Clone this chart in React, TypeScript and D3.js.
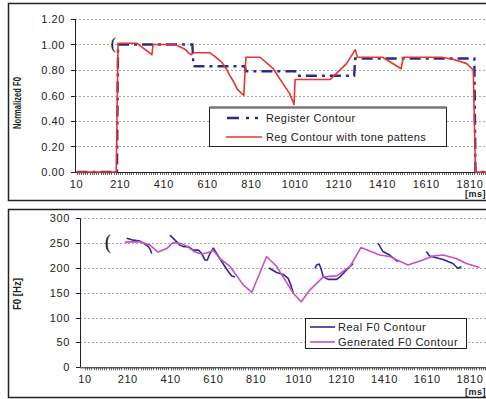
import React from "react";
import * as d3 from "d3";

// ---------- data ----------
const xTickLabels = [10, 210, 410, 610, 810, 1010, 1210, 1410, 1610, 1810];
const topYTicks = [0, 0.2, 0.4, 0.6, 0.8, 1.0, 1.2];
const bottomYTicks = [0, 50, 100, 150, 200, 250, 300];

// Top chart: Register Contour
const registerMs = [10, 195, 200, 540, 545, 780, 785, 1010, 1015, 1280, 1285, 1830, 1835, 1900];
const registerVal = [0, 0, 1.0, 1.0, 0.83, 0.83, 0.79, 0.79, 0.755, 0.755, 0.89, 0.89, 0, 0];

// Top chart: Reg Contour with tone pattens
const toneMs = [10, 192, 200, 285, 355, 360, 460, 480, 505, 525, 535, 545, 620, 640, 675, 695, 710, 725, 745, 775, 785, 850, 910, 940, 985, 1005, 1010, 1170, 1245, 1275, 1285, 1295, 1410, 1495, 1505, 1680, 1740, 1795, 1825, 1835, 1900];
const toneVal = [0, 0, 1.01, 1.01, 0.92, 1.0, 1.0, 0.985, 0.965, 0.93, 0.92, 0.935, 0.935, 0.91, 0.86, 0.81, 0.76, 0.72, 0.65, 0.6, 0.9, 0.9, 0.81, 0.73, 0.615, 0.53, 0.725, 0.725, 0.85, 0.93, 0.96, 0.9, 0.9, 0.81, 0.9, 0.9, 0.88, 0.85, 0.8, 0, 0];

// Bottom chart: Generated F0 Contour
const genMs = [197, 267, 314, 351, 392, 421, 462, 492, 524, 556, 594, 608, 641, 688, 720, 750, 790, 859, 906, 945, 984, 1021, 1062, 1093, 1124, 1187, 1249, 1300, 1388, 1434, 1520, 1590, 1637, 1684, 1746, 1793, 1855];
const genVal = [252, 253, 246, 232, 239, 251, 249, 242, 232, 228, 232, 236, 219, 203, 184, 166, 151, 223, 203, 176, 149, 132, 156, 169, 182, 184, 203, 241, 226, 223, 206, 216, 224, 226, 219, 209, 201];

// Bottom chart: Real F0 Contour (separate voiced segments)
const realSeg1Ms = [205, 236, 267, 283, 306, 314, 322];
const realSeg1Val = [260, 256, 254, 250, 243, 238, 229];
const realSeg2Ms = [407, 431, 454, 470, 493, 516, 540, 556, 571, 582, 594, 610, 626, 649, 664, 680, 696, 711];
const realSeg2Val = [266, 256, 246, 243, 243, 236, 236, 229, 216, 216, 229, 240, 229, 213, 203, 193, 184, 182];
const realSeg3Ms = [870, 906, 937, 960, 972, 984];
const realSeg3Val = [200, 191, 187, 179, 166, 149];
const realSeg4Ms = [1085, 1093, 1105, 1113, 1124, 1147, 1187, 1202, 1233, 1257, 1264];
const realSeg4Val = [199, 206, 208, 199, 182, 177, 177, 182, 196, 206, 209];
const realSeg5Ms = [1380, 1403, 1434, 1473];
const realSeg5Val = [250, 233, 226, 213];
const realSeg6Ms = [1606, 1621, 1684, 1730, 1754, 1769];
const realSeg6Val = [233, 224, 217, 209, 199, 203];

const topLegend = ["Register Contour", "Reg Contour with tone pattens"];
const bottomLegend = ["Real F0 Contour", "Generated F0 Contour"];

// ---------- styles ----------
const FONT = "'Liberation Sans', Arial, sans-serif";
const NAVY = "#2c2a8a";
const RED = "#e8342c";
const MAGENTA = "#c850c6";
const REAL = "#302a8e";
const REG_DASH = "11,5,3,5";

type Pt = [number, number];
const zip = (a: number[], b: number[]): Pt[] => a.map((v, i) => [v, b[i]]);

function Panel(props: {
  top: number;
  bottom: number;
  frameTop: number;
  frameBottom: number;
  xRange: [number, number];
  yDomain: [number, number];
  yTicks: number[];
  fmt: (v: number) => string;
  yTitle: string;
  yTitleLen: number;
  yTitleY: number;
  axisX: number;
  msY: number;
  children: (x: d3.ScaleLinear<number, number>, y: d3.ScaleLinear<number, number>) => React.ReactNode;
}) {
  const x = d3.scaleLinear().domain([10, 1810]).range(props.xRange);
  const y = d3.scaleLinear().domain(props.yDomain).range([props.bottom, props.top]);
  const minor = d3.range(10, 1900, 10);
  const x0 = props.axisX;
  return (
    <g>
      <rect x={8.5} y={props.frameTop} width={495} height={props.frameBottom - props.frameTop} fill="white" stroke="#222" strokeWidth={1.5} />
      {props.yTicks.map((t) => (
        <g key={"g" + t}>
          {t > 0 && (
            <line x1={x0} x2={490} y1={Math.round(y(t)) + 0.5} y2={Math.round(y(t)) + 0.5} stroke="#a8a8a8" strokeDasharray="2,2" strokeWidth={1} />
          )}
          <line x1={x0 - 4} x2={x0} y1={Math.round(y(t)) + 0.5} y2={Math.round(y(t)) + 0.5} stroke="#222" />
          <text x={x0 - 10} y={y(t) + 4} textAnchor="end" fontFamily={FONT} fontSize={11} letterSpacing={0.6} fill="#222">
            {props.fmt(t)}
          </text>
        </g>
      ))}
      <line x1={x0 + 0.5} x2={x0 + 0.5} y1={y(props.yDomain[1])} y2={props.bottom} stroke="#222" strokeWidth={1} />
      {minor.map((t) => (
        <line key={"m" + t} x1={Math.round(x(t)) + 0.5} x2={Math.round(x(t)) + 0.5} y1={props.bottom} y2={props.bottom + 3} stroke="#444" strokeWidth={0.8} />
      ))}
      <line x1={x0} x2={490} y1={props.bottom + 0.5} y2={props.bottom + 0.5} stroke="#222" strokeWidth={1} />
      {xTickLabels.map((t) => (
        <text key={"x" + t} x={x(t)} y={props.bottom + 16} textAnchor="middle" fontFamily={FONT} fontSize={11} letterSpacing={0.6} fill="#222">
          {t}
        </text>
      ))}
      <text x={465} y={props.msY} fontFamily={FONT} fontSize={9} fontWeight="bold" letterSpacing={0.5} fill="#222">
        [ms]
      </text>
      <text
        transform={`translate(21,${props.yTitleY}) rotate(-90)`}
        textAnchor="middle"
        fontFamily={FONT}
        fontSize={10}
        fontWeight="bold"
        textLength={props.yTitleLen}
        lengthAdjust="spacingAndGlyphs"
        fill="#222"
      >
        {props.yTitle}
      </text>
      {props.children(x, y)}
    </g>
  );
}

export default function App() {
  return (
    <svg width={486} height={399} style={{ position: "fixed", left: 0, top: 0, background: "white" }}>
      <Panel
        top={19}
        bottom={172}
        frameTop={3.5}
        frameBottom={200.5}
        xRange={[76.5, 470]}
        yDomain={[0, 1.2]}
        yTicks={topYTicks}
        fmt={(v) => v.toFixed(2)}
        yTitle="Normalized F0"
        yTitleLen={52}
        yTitleY={103}
        axisX={75}
        msY={197}
      >
        {(x, y) => {
          const line = d3.line<Pt>().x((d) => x(d[0])).y((d) => y(d[1]));
          return (
            <g>
              <path d={line(zip(registerMs, registerVal)) || ""} fill="none" stroke={NAVY} strokeWidth={2.4} strokeDasharray={REG_DASH} />
              <path d={line(zip(toneMs, toneVal)) || ""} fill="none" stroke={RED} strokeWidth={1.6} strokeLinejoin="round" />
              <text x={110} y={50} fontFamily="'DejaVu Serif', serif" fontSize={17} fill="#222">(</text>
              <rect x={209.5} y={107.5} width={237} height={39} fill="white" stroke="#222" strokeWidth={1} />
              <line x1={209.5} x2={446.5} y1={107.5} y2={107.5} stroke="#777" strokeWidth={2.5} />
              <line x1={227} x2={262} y1={118} y2={118} stroke={NAVY} strokeWidth={2.4} strokeDasharray="12,7,3,6,3,6" />
              <text x={266} y={122} fontFamily={FONT} fontSize={11} letterSpacing={0.4} fill="#222">{topLegend[0]}</text>
              <line x1={226} x2={262} y1={137} y2={137} stroke={RED} strokeWidth={1.6} />
              <text x={266} y={141} fontFamily={FONT} fontSize={11} letterSpacing={0.4} fill="#222">{topLegend[1]}</text>
            </g>
          );
        }}
      </Panel>
      <Panel
        top={218.3}
        bottom={367.3}
        frameTop={209.5}
        frameBottom={397.5}
        xRange={[85, 470]}
        yDomain={[0, 300]}
        yTicks={bottomYTicks}
        fmt={(v) => String(v)}
        yTitle="F0 [Hz]"
        yTitleLen={32}
        yTitleY={294}
        axisX={80}
        msY={395}
      >
        {(x, y) => {
          const line = d3.line<Pt>().x((d) => x(d[0])).y((d) => y(d[1])).curve(d3.curveLinear);
          const segs = [
            zip(realSeg1Ms, realSeg1Val),
            zip(realSeg2Ms, realSeg2Val),
            zip(realSeg3Ms, realSeg3Val),
            zip(realSeg4Ms, realSeg4Val),
            zip(realSeg5Ms, realSeg5Val),
            zip(realSeg6Ms, realSeg6Val),
          ];
          return (
            <g>
              {segs.map((s, i) => (
                <path key={i} d={line(s) || ""} fill="none" stroke={REAL} strokeWidth={1.6} strokeLinejoin="round" />
              ))}
              <path d={line(zip(genMs, genVal)) || ""} fill="none" stroke={MAGENTA} strokeWidth={1.6} strokeLinejoin="round" />
              <text x={104} y={250} fontFamily="'DejaVu Serif', serif" fontSize={20} fill="#222">(</text>
              <rect x={305.5} y={318.5} width={161} height={30} fill="white" stroke="#222" strokeWidth={1} />
              <line x1={310} x2={335} y1={327} y2={327} stroke={REAL} strokeWidth={1.6} />
              <text x={338} y={331} fontFamily={FONT} fontSize={11} letterSpacing={0.5} fill="#222">{bottomLegend[0]}</text>
              <line x1={310} x2={335} y1={342} y2={342} stroke={MAGENTA} strokeWidth={1.6} />
              <text x={338} y={346} fontFamily={FONT} fontSize={11} letterSpacing={0.5} fill="#222">{bottomLegend[1]}</text>
            </g>
          );
        }}
      </Panel>
    </svg>
  );
}
